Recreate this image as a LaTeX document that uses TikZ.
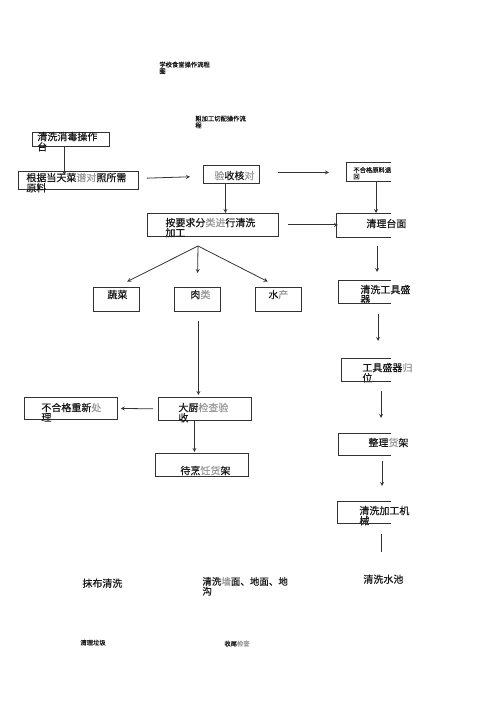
\documentclass[tikz,border=0pt]{standalone}
\usepackage{fontspec}
\setmainfont{Noto Sans CJK SC}[FakeBold=0.6]

\newcommand\faded[1]{\textcolor{black!40}{#1}}

\tikzset{
  flowbox/.style={draw=black!80, anchor=north west, inner ysep=0pt, align=left,
    text=black!90, font=\fontsize{10}{7.5}\selectfont},
  openbox/.style={flowbox, draw=none},
  smalltext/.style={font=\fontsize{6.3}{5.5}\selectfont},
  freetext/.style={anchor=base west, inner sep=0pt, align=left, text=black!90,
    font=\fontsize{10}{7.5}\selectfont},
  arr/.style={->, draw=black!80},
}

\begin{document}
\begin{tikzpicture}[>=stealth, line width=.8pt, x=1pt, y=-1pt]
\useasboundingbox (0,0) rectangle (500,708);

% titles
\node[freetext, smalltext, text width=60pt] (title) at (159,67) {学校食堂操作流程\\图};
\node[freetext, smalltext, text width=60pt] (subtitle) at (195,121) {粗加工切配操作流\\程};

% left and middle boxes
\node[flowbox, inner xsep=5pt, text width=67pt, text height=8pt, text depth=6pt] (wash) at (32,132) {清洗消毒操作\\台};
\node[flowbox, inner xsep=8pt, text width=104pt, text height=10pt, text depth=8pt] (recipe) at (18,171) {根据当天菜\faded{谱对}照所需\\原料};
\node[flowbox, inner xsep=11pt, text width=34pt, text height=14pt, text depth=4pt] (check) at (203,165) {\faded{验}收核\faded{对}};
\node[flowbox, inner xsep=18pt, text width=95pt, text height=13pt, text depth=10pt] (sort) at (147,213) {按要求分\faded{类进}行清洗\\加工};

\node[flowbox, inner xsep=14pt, text width=18pt, text height=11pt, text depth=13pt] (veg) at (93,287) {蔬菜};
\node[flowbox, inner xsep=16pt, text width=14pt, text height=11pt, text depth=13pt] (meat) at (174,287) {肉\faded{类}};
\node[flowbox, inner xsep=13pt, text width=20pt, text height=11pt, text depth=13pt] (sea) at (255,287) {水\faded{产}};

\node[flowbox, inner xsep=20pt, text width=53pt, text height=14pt, text depth=9pt] (chef) at (158,397) {大厨\faded{检查验}\\收};
\node[flowbox, inner xsep=17pt, text width=59pt, text height=14pt, text depth=8pt] (redo) at (24,397) {不合格重新\faded{处}\\理};
\node[flowbox, inner xsep=25pt, text width=43pt, text height=21pt, text depth=2pt] (wait) at (155,453) {待烹\faded{饪货}架};

% right column, boxes cut off on the right
\node[openbox, smalltext, inner xsep=7pt, text width=40pt, text height=10pt, text depth=9pt] (reject) at (346,162) {不合格原料退\\回};
\node[openbox, inner xsep=30pt, text width=50pt, text height=14pt, text depth=10pt] (clean) at (336,213) {清理台面};
\node[openbox, inner xsep=22pt, text width=50pt, text height=13pt, text depth=10pt] (tools) at (338,280) {清洗工具盛\\器};
\node[openbox, inner xsep=21pt, text width=50pt, text height=13pt, text depth=10pt] (home) at (341,358) {工具盛器\faded{归}\\位};
\node[openbox, inner xsep=30pt, text width=50pt, text height=13pt, text depth=9pt] (shelf) at (338,433) {整理\faded{货}架};
\node[openbox, inner xsep=22pt, text width=50pt, text height=13pt, text depth=9pt] (mach) at (337,501) {清洗加工机\\械};

\coordinate (cut) at (391,0);
\foreach \n in {reject,clean,tools,home,shelf,mach}
{
   \draw[black!80] (cut |- \n.north west) -- (\n.north west) -- (\n.south west) -- (cut |- \n.south west);
}

% texts without boxes
\node[freetext] (pool) at (363,583) {清洗水池};
\node[freetext] (cloth) at (82,587) {抹布清洗};
\node[freetext, text width=90pt, font=\fontsize{9.5}{7.5}\selectfont] (walls) at (202,585) {清洗\faded{墙}面、地面、地\\沟};
\node[freetext, smalltext] (garbage) at (80,645) {清理垃圾};
\node[freetext, smalltext] (final) at (224,646) {收尾\faded{检查}};

% connectors
\draw[arr, shorten >=-4pt] ([xshift=-6.5pt]wash.south) -- ([xshift=-6.5pt]wash.south |- recipe.north);
\draw[arr, shorten <=8pt, shorten >=13pt] ([yshift=2pt]recipe.east) -- ([yshift=-2pt]check.west);
\draw[arr, shorten <=18pt, shorten >=17pt] ([yshift=2pt]check.east) -- ([yshift=2pt]check.east -| reject.west);
\draw[arr] ([xshift=-6pt]check.south) -- ([xshift=-6pt]check.south |- sort.north);
\draw[arr, shorten <=9pt, shorten >=-2pt] (sort.east) -- (sort.east -| clean.west);
\draw[arr] ([xshift=30pt]reject.south west) -- ([xshift=30pt]reject.south west |- clean.north west);

\coordinate (fork) at (198,246);
\draw[arr, shorten >=12pt] (fork) -- (veg.north);
\draw[arr, shorten >=14pt] (fork) -- (meat.north);
\draw[arr, shorten >=12pt] (fork) -- (sea.north);

\draw[arr, shorten <=9pt, shorten >=2pt] ([xshift=1pt]meat.south) -- ([xshift=1pt]meat.south |- chef.north);
\draw[arr, shorten <=5pt, shorten >=3pt] (chef.west) -- (redo.east);
\draw[arr, shorten >=1pt] ([xshift=-10.5pt]chef.south) -- ([xshift=-10.5pt]chef.south |- wait.north);

\draw[arr, shorten <=8pt, shorten >=8pt] ([xshift=41pt]clean.south west) -- ([xshift=41pt]clean.south west |- tools.north west);
\draw[arr, shorten <=10pt, shorten >=17pt] ([xshift=40pt]tools.south west) -- ([xshift=40pt]tools.south west |- home.north west);
\draw[arr, shorten <=9pt, shorten >=15pt] ([xshift=40pt]home.south west) -- ([xshift=40pt]home.south west |- shelf.north west);
\draw[arr, shorten <=5pt, shorten >=15pt] ([xshift=44pt]shelf.south west) -- ([xshift=44pt]shelf.south west |- mach.north west);
\draw[black!80, shorten <=10pt, shorten >=22pt] ([xshift=44pt]mach.south west) -- ([xshift=44pt]mach.south west |- pool.north);

\end{tikzpicture}
\end{document}
